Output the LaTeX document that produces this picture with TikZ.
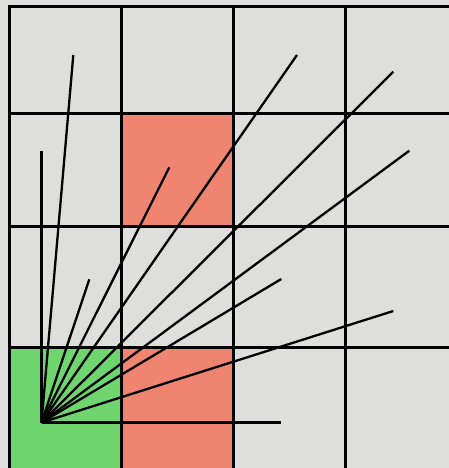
\documentclass[tikz,border=0pt]{standalone}
\usetikzlibrary{positioning}
\definecolor{PaperGray}{RGB}{222,223,220}
\definecolor{CellGreen}{RGB}{111,214,111}
\definecolor{CellRed}{RGB}{239,132,113}
\tikzset{
  gridline/.style={draw=black,line width=3pt,line cap=rect},
  greencell/.style={fill=CellGreen},
  redcell/.style={fill=CellRed},
  ray/.style={draw=black,line width=2.3pt},
}

\begin{document}
\begin{tikzpicture}[x=1pt,y=-1pt]
  \fill[PaperGray] (0,0) rectangle (449,468);
  \useasboundingbox (0,0) rectangle (449,468);
  % coloured cells
  \fill[greencell] (9,347.5) rectangle (121,470);
  \fill[redcell] (121,113.5) rectangle (233.5,226);
  \fill[redcell] (121,347.5) rectangle (233.5,470);
  % grid
  \draw[gridline] (9,470) -- (9,6.5) -- (451,6.5);
  \draw[gridline] (121,6.5) -- (121,470);
  \draw[gridline] (233.5,6.5) -- (233.5,470);
  \draw[gridline] (345.7,6.5) -- (345.7,470);
  \draw[gridline] (9,113.5) -- (451,113.5);
  \draw[gridline] (9,226) -- (451,226);
  \draw[gridline] (9,347.5) -- (451,347.5);
  % fan of rays
  \coordinate (origin) at (41.5,422.5);
  \coordinate (e1) at (73.3,55);
  \coordinate (e2) at (41.5,151);
  \coordinate (e3) at (169.3,167.3);
  \coordinate (e4) at (89.3,279.3);
  \coordinate (e5) at (297,55);
  \coordinate (e6) at (393.3,71.7);
  \coordinate (e7) at (409.3,150.7);
  \coordinate (e8) at (281.3,279);
  \coordinate (e9) at (393.3,311);
  \coordinate (e10) at (281.3,422.5);
  \draw[ray] (origin) -- (e1);
  \draw[ray] (origin) -- (e2);
  \draw[ray] (origin) -- (e3);
  \draw[ray] (origin) -- (e4);
  \draw[ray] (origin) -- (e5);
  \draw[ray] (origin) -- (e6);
  \draw[ray] (origin) -- (e7);
  \draw[ray] (origin) -- (e8);
  \draw[ray] (origin) -- (e9);
  \draw[ray] (origin) -- (e10);
\end{tikzpicture}
\end{document}
